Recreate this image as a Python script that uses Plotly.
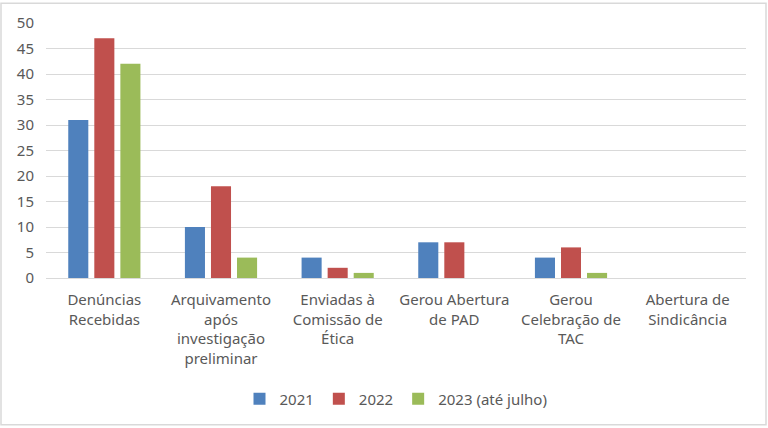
import plotly.graph_objects as go

categories = ["Denúncias<br>Recebidas", "Arquivamento<br>após<br>investigação<br>preliminar",
              "Enviadas à<br>Comissão de<br>Ética", "Gerou Abertura<br>de PAD",
              "Gerou<br>Celebração de<br>TAC", "Abertura de<br>Sindicância"]
series_names = ["2021", "2022", "2023 (até julho)"]
v2021 = [31, 10, 4, 7, 4, 0]
v2022 = [47, 18, 2, 7, 6, 0]
v2023 = [42, 4, 1, 0, 1, 0]
colors = ["#4F81BD", "#C0504D", "#9BBB59"]
y_ticks = [0, 5, 10, 15, 20, 25, 30, 35, 40, 45, 50]

FONT = "Noto Sans, sans-serif"

fig = go.Figure()
for name, vals, c in zip(series_names, [v2021, v2022, v2023], colors):
    fig.add_trace(go.Bar(x=categories, y=vals, name=name, marker_color=c,
                         marker_line_width=0))

W, H = 768, 428
ml, mr, mt, mb = 46, 22, 21, 150
pw, ph = W - ml - mr, H - mt - mb

fig.update_layout(
    width=W, height=H,
    margin=dict(l=ml, r=mr, t=mt, b=mb),
    paper_bgcolor="white", plot_bgcolor="white",
    barmode="group", bargap=0.33, bargroupgap=0.23,
    font=dict(family=FONT, size=15, color="#595959"),
    showlegend=True,
    legend=dict(orientation="h", x=0.5, xanchor="center",
                y=(278 - 400) / ph, yanchor="middle",
                font=dict(size=15, color="#595959"),
                itemwidth=30, traceorder="normal", tracegroupgap=0),
    xaxis=dict(showgrid=False, showline=True, linecolor="#d9d9d9", linewidth=1,
               ticks="outside", ticklen=8, tickcolor="rgba(0,0,0,0)",
               tickfont=dict(size=15, color="#595959")),
    yaxis=dict(range=[0, 50], tickvals=y_ticks, showgrid=True,
               gridcolor="#d9d9d9", gridwidth=1, zeroline=False, showline=False,
               ticks="outside", ticklen=8, tickcolor="rgba(0,0,0,0)",
               tickfont=dict(size=15, color="#595959")),
    shapes=[dict(type="rect", xref="paper", yref="paper",
                 x0=(1 - ml) / pw, x1=(W - 2 - ml) / pw,
                 y0=(H - mb - (H - 2)) / ph, y1=(H - mb - 1) / ph,
                 line=dict(color="#d9d9d9", width=1.5), fillcolor="rgba(0,0,0,0)",
                 layer="below")],
)

fig.write_html("out.html", config={"displayModeBar": False},
               post_script="document.body.style.margin='0';document.body.style.padding='0';")
